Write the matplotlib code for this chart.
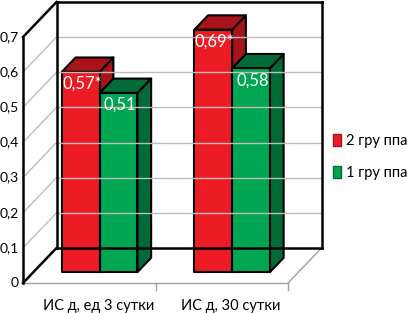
import matplotlib
matplotlib.use("Agg")
import matplotlib.pyplot as plt
from matplotlib.patches import Polygon, Patch

plt.rcParams['font.family'] = ['Lato', 'DejaVu Sans']

categories = ["ИС д, ед 3 сутки", "ИС д, 30 сутки"]
series_names = ["2 гру ппа", "1 гру ппа"]
values_g2 = [0.57, 0.69]
values_g1 = [0.51, 0.58]
labels_g2 = ["0,57*", "0,69*"]
labels_g1 = ["0,51", "0,58"]
yticks = [0, 0.1, 0.2, 0.3, 0.4, 0.5, 0.6, 0.7]
ytick_labels = ["0", "0,1", "0,2", "0,3", "0,4", "0,5", "0,6", "0,7"]

front_colors = ["#ED1C24", "#00A651"]
dark_colors = ["#A8141A", "#006B37"]

W, H = 407, 313
fig = plt.figure(figsize=(W / 100, H / 100), dpi=100)
ax = fig.add_axes([0, 0, 1, 1])
ax.axis("off")

# pixel mapping of front plane: x=0 -> 23px, x=2 -> 288px ; v=0 -> 283px, v=0.7 -> 37px
px_per_cat = (288 - 23) / 2
px_per_val = (283 - 37) / 0.7
ax.set_xlim(-23 / px_per_cat, (W - 23) / px_per_cat)
ax.set_ylim((283 - H) / px_per_val, 283 / px_per_val)

DX = 33.5 / px_per_cat
DY = 35 / px_per_val
ymax = 0.7
ncat = len(categories)


def P(x, v, z):
    return (x + z * DX, v + z * DY)


grid_c = "#BDBDBD"
for t in yticks[1:-1]:
    xs, ys = zip(P(0, t, 1), P(ncat, t, 1))
    ax.plot(xs, ys, color=grid_c, lw=1)
    xs, ys = zip(P(0, t, 0), P(0, t, 1))
    ax.plot(xs, ys, color=grid_c, lw=1)

xs, ys = zip(P(0, 0, 0), P(ncat, 0, 0))
ax.plot(xs, ys, color="#A0A0A0", lw=1)
xs, ys = zip(P(ncat, 0, 0), P(ncat, 0, 1))
ax.plot(xs, ys, color="#A0A0A0", lw=1)
for i in range(1, ncat + 1):
    ax.plot([i, i], [0, -7 / px_per_val], color="#A0A0A0", lw=1)

edges = [
    (P(0, 0, 0), P(0, ymax, 0)),
    (P(0, ymax, 0), P(0, ymax, 1)),
    (P(0, 0, 0), P(0, 0, 1)),
    (P(0, 0, 1), P(0, ymax, 1)),
    (P(0, ymax, 1), P(ncat, ymax, 1)),
    (P(ncat, 0, 1), P(ncat, ymax, 1)),
    (P(0, 0, 1), P(ncat, 0, 1)),
]
for a, b in edges:
    ax.plot([a[0], b[0]], [a[1], b[1]], color="black", lw=1.8,
            solid_capstyle="projecting", clip_on=False)

bw = 0.285
z0, z1 = 0.31, 0.72
series_vals = [values_g2, values_g1]
series_labels = [labels_g2, labels_g1]
for i in range(ncat):
    for j in range(2):
        val = series_vals[j][i]
        xl = i + 0.5 - bw + j * bw
        xr = xl + bw
        front = [P(xl, 0, z0), P(xr, 0, z0), P(xr, val, z0), P(xl, val, z0)]
        top = [P(xl, val, z0), P(xr, val, z0), P(xr, val, z1), P(xl, val, z1)]
        side = [P(xr, 0, z0), P(xr, val, z0), P(xr, val, z1), P(xr, 0, z1)]
        for poly, col in [(side, dark_colors[j]), (top, dark_colors[j]),
                          (front, front_colors[j])]:
            ax.add_patch(Polygon(poly, closed=True, facecolor=col,
                                 edgecolor="black", lw=1.5, joinstyle="round",
                                 clip_on=False))
        cx, cy = P((xl + xr) / 2, val, z0)
        ax.annotate(series_labels[j][i], (cx, cy), xytext=(1, -3),
                    textcoords="offset points", ha="center", va="top",
                    color="white", fontsize=12)

for t, lab in zip(yticks, ytick_labels):
    ax.text(-4 / px_per_cat, t, lab, ha="right", va="center", fontsize=10)

for i, c in enumerate(categories):
    ax.text(i + 0.5 + 0.07, -23 / px_per_val, c, ha="center", va="center",
            fontsize=10.5)

handles = [Patch(facecolor=front_colors[j], edgecolor=dark_colors[j])
           for j in range(2)]
fig.legend(handles, series_names, loc="center left",
           bbox_to_anchor=(326 / W, 1 - 157 / H), frameon=False,
           handlelength=0.55, handleheight=0.85, handletextpad=0.35,
           labelspacing=1.25, fontsize=10.5, borderpad=0)

fig.savefig("out.png", dpi=100)
